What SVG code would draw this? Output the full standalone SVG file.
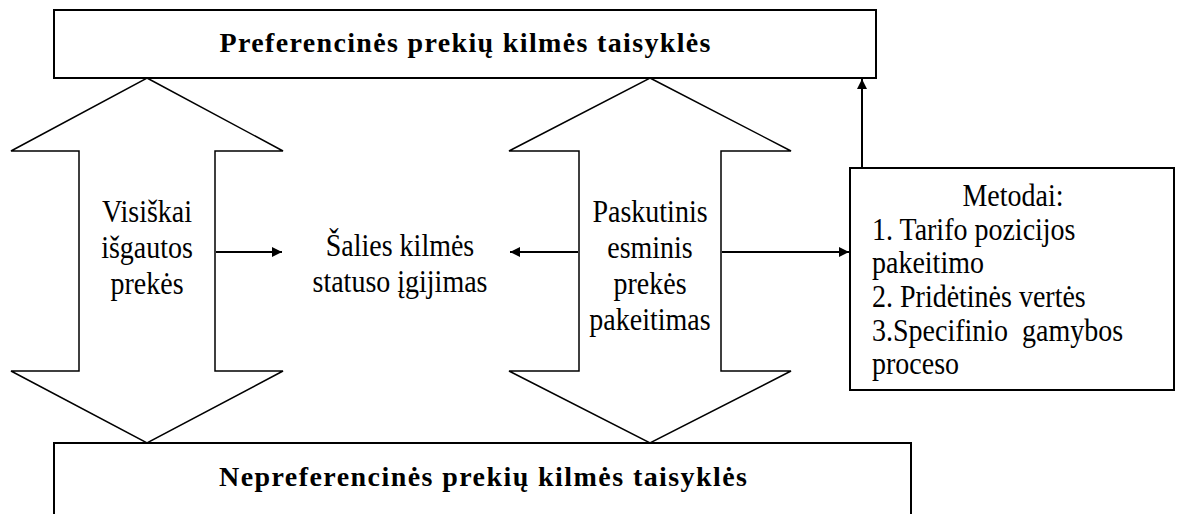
<svg xmlns="http://www.w3.org/2000/svg" width="1179" height="514" viewBox="0 0 1179 514">
  <defs>
    <marker id="ah" viewBox="0 0 10 10" refX="10" refY="5" markerWidth="6" markerHeight="5" markerUnits="strokeWidth" orient="auto">
      <path d="M0,0 L10,5 L0,10 Z" fill="#000"/>
    </marker>
  </defs>
  <style>
    .shape { fill: #fff; stroke: #000; stroke-width: 1.5; stroke-linejoin: miter; }
    .box { fill: #fff; stroke: #000; stroke-width: 2; }
    .t { font-family: "Liberation Serif", "Times New Roman", serif; font-size: 28px; fill: #000; }
    .c { text-anchor: middle; }
    .b { font-weight: bold; }
    .conn { stroke: #000; stroke-width: 2; fill: none; marker-end: url(#ah); }
  </style>
  <rect width="1179" height="514" fill="#fff"/>

  <g id="arrow-left">
    <polygon class="shape" points="147,78 283,151 215,151 215,371 283,371 147,443 11,371 79,371 79,151 11,151"/>
    <text class="t c" transform="matrix(1,0,0,1.12,147,222)">Visiškai</text>
    <text class="t c" transform="matrix(1,0,0,1.12,147,258)">išgautos</text>
    <text class="t c" transform="matrix(1,0,0,1.12,147,294)">prekės</text>
  </g>

  <g id="arrow-right">
    <polygon class="shape" points="650,78 791,151 721,151 721,371 791,371 650,443 509,371 579,371 579,151 509,151"/>
    <text class="t c" transform="matrix(1,0,0,1.12,650,222)">Paskutinis</text>
    <text class="t c" transform="matrix(1,0,0,1.12,650,258)">esminis</text>
    <text class="t c" transform="matrix(1,0,0,1.12,650,294)">prekės</text>
    <text class="t c" transform="matrix(1,0,0,1.12,650,330)">pakeitimas</text>
  </g>

  <g id="top-box">
    <rect class="box" x="54" y="10" width="822" height="68"/>
    <text class="t c b" x="465" y="52" textLength="491" lengthAdjust="spacing">Preferencinės prekių kilmės taisyklės</text>
  </g>

  <g id="bottom-box">
    <rect class="box" x="54" y="443" width="857" height="90"/>
    <text class="t c b" x="483" y="486" textLength="528" lengthAdjust="spacing">Nepreferencinės prekių kilmės taisyklės</text>
  </g>

  <g id="center-label">
    <text class="t c" transform="matrix(1,0,0,1.12,400,256)">Šalies kilmės</text>
    <text class="t c" transform="matrix(1,0,0,1.12,400,292)">statuso įgijimas</text>
  </g>

  <g id="methods-box">
    <rect class="box" x="850" y="168" width="324" height="222"/>
    <text class="t c" transform="matrix(1,0,0,1.1,1013,206)">Metodai:</text>
    <text class="t" transform="matrix(1,0,0,1.1,872,240)">1. Tarifo pozicijos</text>
    <text class="t" transform="matrix(1,0,0,1.1,872,273)">pakeitimo</text>
    <text class="t" transform="matrix(1,0,0,1.1,872,307)">2. Pridėtinės vertės</text>
    <text class="t" transform="matrix(1,0,0,1.1,872,341)" xml:space="preserve">3.Specifinio  gamybos</text>
    <text class="t" transform="matrix(1,0,0,1.1,872,374)">proceso</text>
  </g>

  <g id="connectors">
    <line class="conn" x1="216" y1="252" x2="282" y2="252"/>
    <line class="conn" x1="578" y1="252" x2="510" y2="252"/>
    <line class="conn" x1="722" y1="252" x2="849" y2="252"/>
    <line class="conn" x1="862" y1="168" x2="862" y2="79"/>
  </g>
</svg>
